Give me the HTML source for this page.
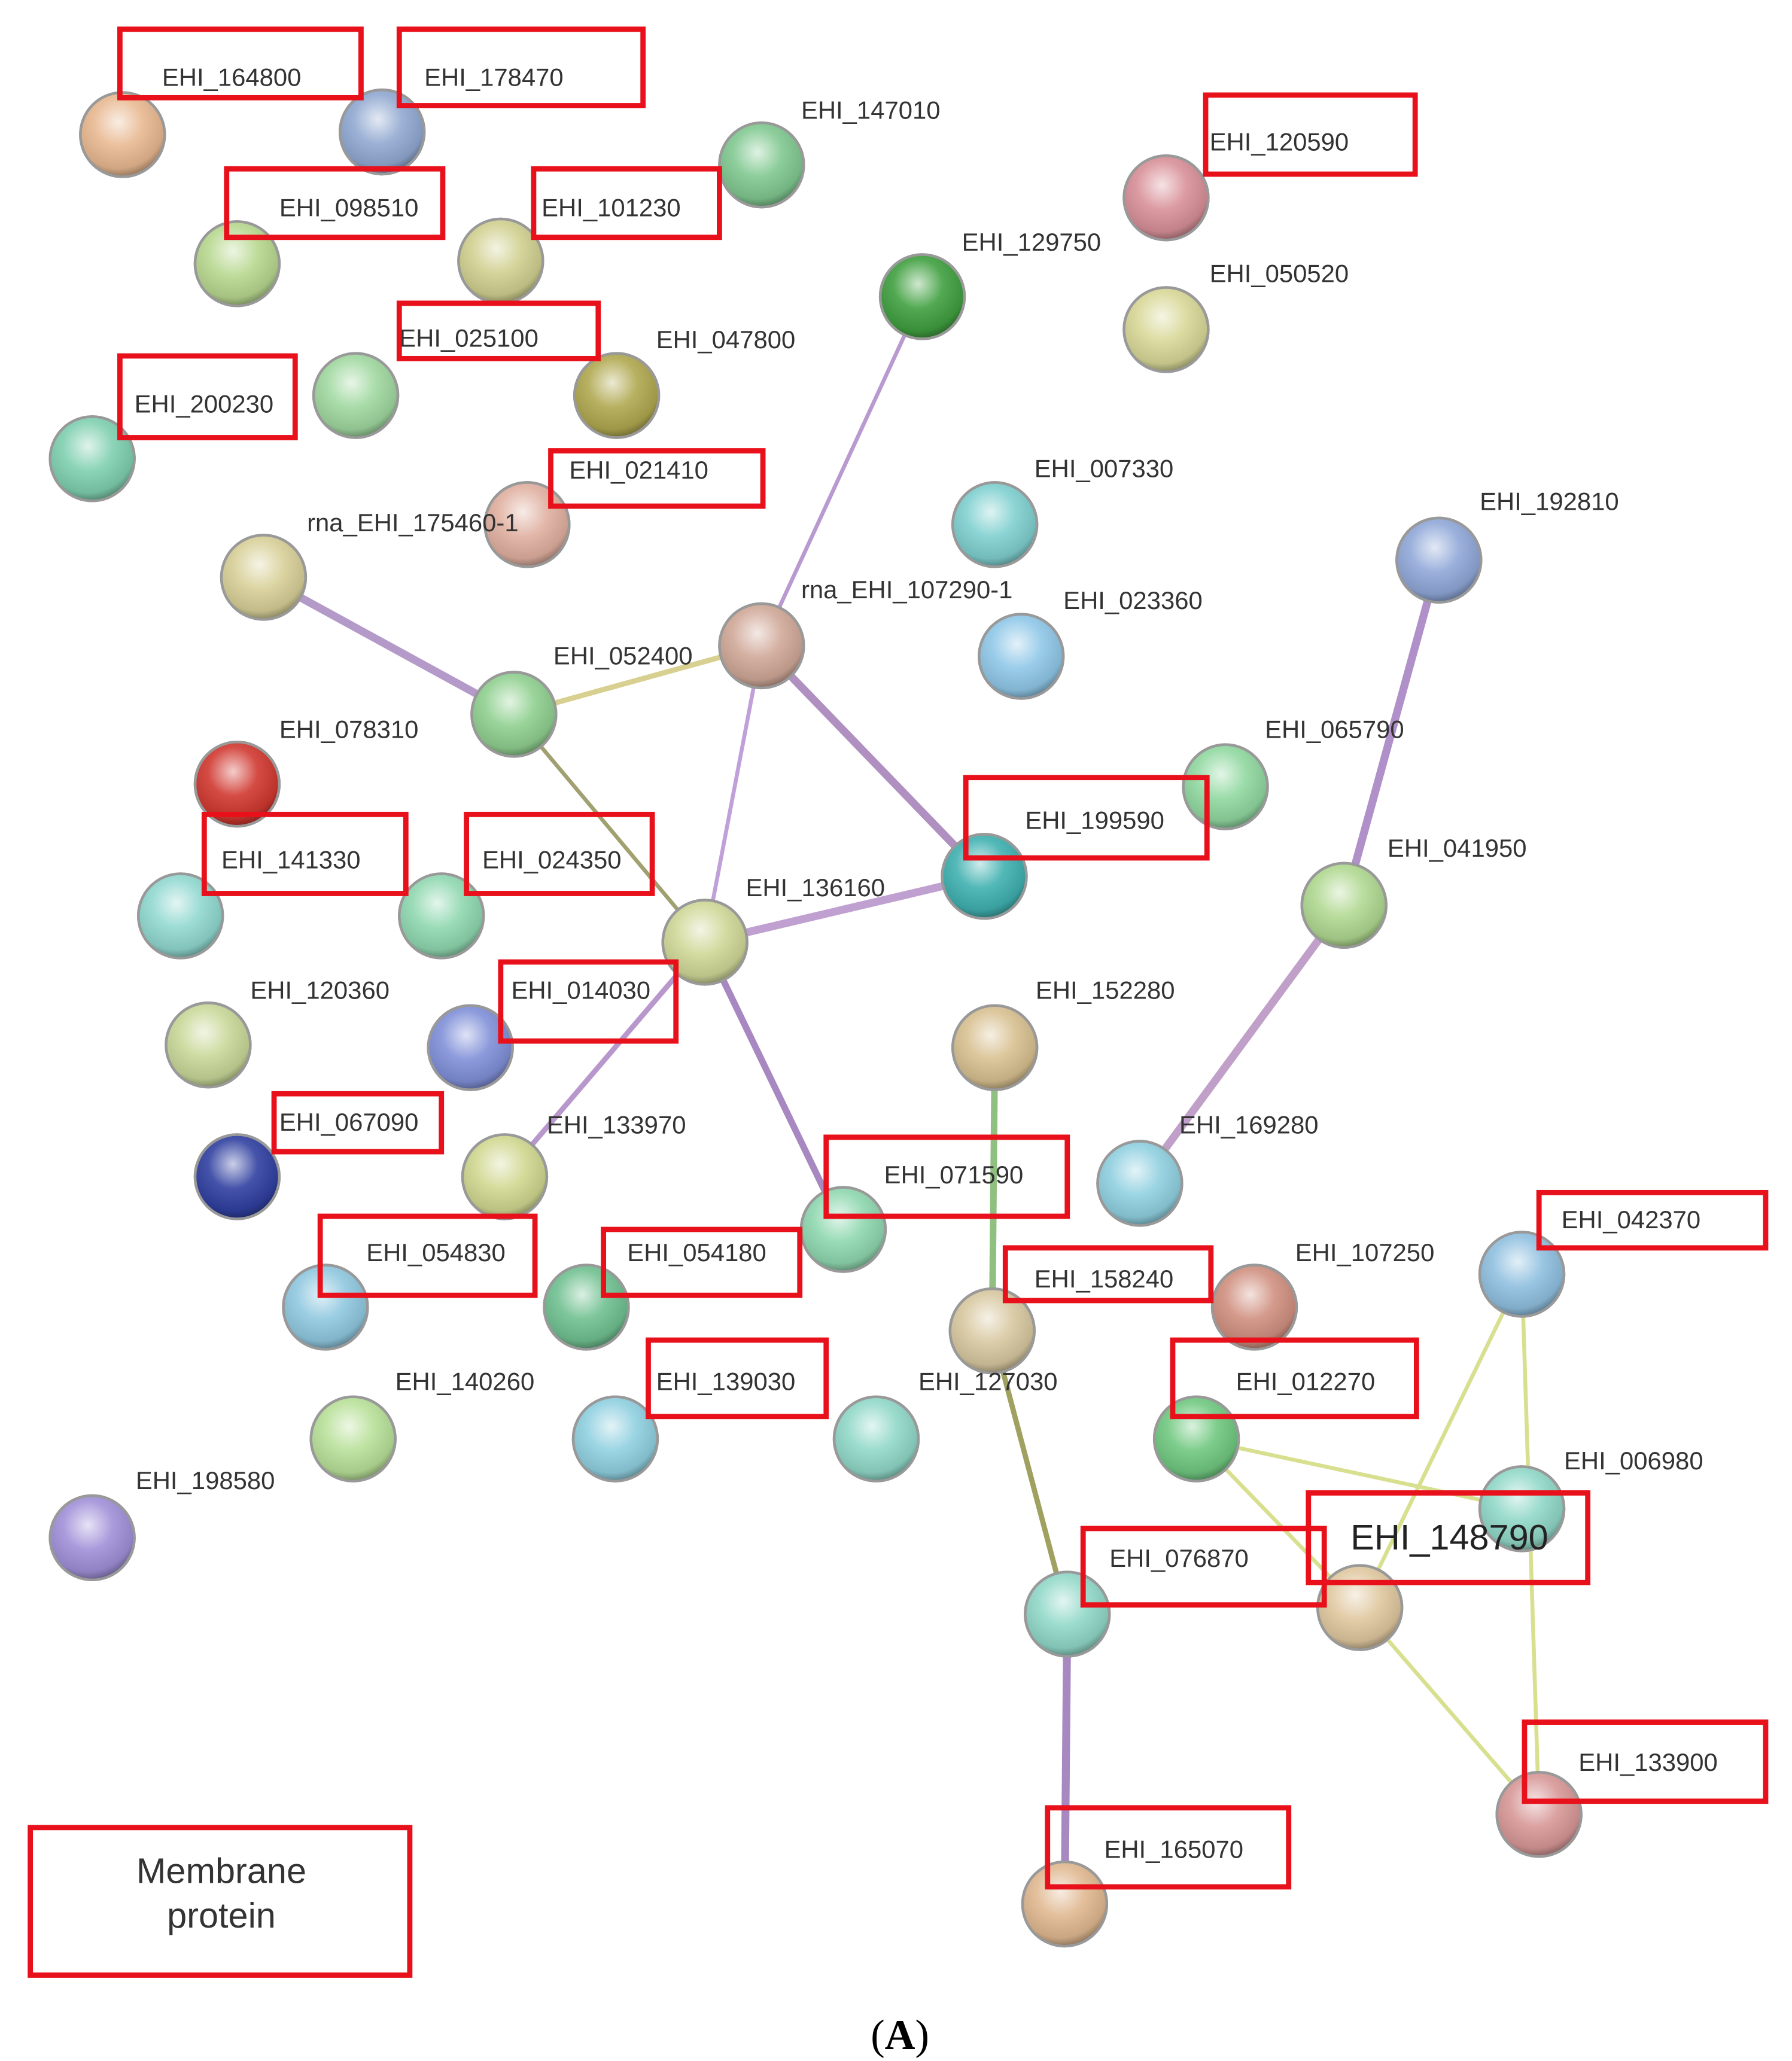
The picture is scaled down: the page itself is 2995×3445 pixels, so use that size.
<!DOCTYPE html>
<html><head><meta charset="utf-8"><style>
html,body{margin:0;padding:0;background:#fff;}
svg{display:block}
text{font-family:"Liberation Sans",sans-serif;font-size:19px;fill:#333;}
</style></head><body>
<svg width="2995" height="3445" viewBox="0 0 1360 1564" xmlns="http://www.w3.org/2000/svg">
<defs>
<radialGradient id="sh" cx="0.45" cy="0.35" r="0.65">
<stop offset="0" stop-color="#fff" stop-opacity="0.75"/>
<stop offset="0.45" stop-color="#fff" stop-opacity="0.1"/>
<stop offset="0.85" stop-color="#000" stop-opacity="0.1"/>
<stop offset="1" stop-color="#000" stop-opacity="0.35"/>
</radialGradient>
</defs>
<rect width="1360" height="1564" fill="#fff"/>
<g stroke-linecap="round" fill="none">
<line x1="200" y1="438" x2="390" y2="542" stroke="#b49ac8" stroke-width="6"/>
<line x1="390" y1="542" x2="578" y2="490" stroke="#d8d090" stroke-width="4"/>
<line x1="578" y1="490" x2="700" y2="225" stroke="#b89ad0" stroke-width="3"/>
<line x1="578" y1="490" x2="747" y2="665" stroke="#b090c0" stroke-width="6"/>
<line x1="578" y1="490" x2="535" y2="715" stroke="#c0a0d8" stroke-width="3"/>
<line x1="390" y1="542" x2="535" y2="715" stroke="#a0a070" stroke-width="3"/>
<line x1="535" y1="715" x2="747" y2="665" stroke="#c0a0d0" stroke-width="6"/>
<line x1="535" y1="715" x2="640" y2="933" stroke="#a888c0" stroke-width="5"/>
<line x1="535" y1="715" x2="383" y2="893" stroke="#b898cc" stroke-width="4"/>
<line x1="1092" y1="425" x2="1020" y2="687" stroke="#b090c8" stroke-width="6"/>
<line x1="1020" y1="687" x2="865" y2="898" stroke="#c0a0c8" stroke-width="6"/>
<line x1="755" y1="795" x2="753" y2="1010" stroke="#90c080" stroke-width="5"/>
<line x1="753" y1="1010" x2="810" y2="1225" stroke="#a0a060" stroke-width="4"/>
<line x1="810" y1="1225" x2="808" y2="1445" stroke="#a888c0" stroke-width="6"/>
<g stroke="#d8e090" stroke-width="3">
<line x1="908" y1="1092" x2="1155" y2="1145"/>
<line x1="908" y1="1092" x2="1032" y2="1220"/>
<line x1="1155" y1="967" x2="1032" y2="1220"/>
<line x1="1155" y1="967" x2="1168" y2="1377"/>
<line x1="1032" y1="1220" x2="1168" y2="1377"/>
</g>
</g>
<g stroke="#999" stroke-width="2">
<g><circle cx="93" cy="102" r="32" fill="#e8b890"/><circle cx="93" cy="102" r="32" fill="url(#sh)"/></g>
<g><circle cx="290" cy="100" r="32" fill="#90a8d0"/><circle cx="290" cy="100" r="32" fill="url(#sh)"/></g>
<g><circle cx="578" cy="125" r="32" fill="#80c890"/><circle cx="578" cy="125" r="32" fill="url(#sh)"/></g>
<g><circle cx="885" cy="150" r="32" fill="#d89098"/><circle cx="885" cy="150" r="32" fill="url(#sh)"/></g>
<g><circle cx="180" cy="200" r="32" fill="#b8d890"/><circle cx="180" cy="200" r="32" fill="url(#sh)"/></g>
<g><circle cx="380" cy="198" r="32" fill="#d0d090"/><circle cx="380" cy="198" r="32" fill="url(#sh)"/></g>
<g><circle cx="700" cy="225" r="32" fill="#40a040"/><circle cx="700" cy="225" r="32" fill="url(#sh)"/></g>
<g><circle cx="885" cy="250" r="32" fill="#d8d898"/><circle cx="885" cy="250" r="32" fill="url(#sh)"/></g>
<g><circle cx="270" cy="300" r="32" fill="#a0d8a0"/><circle cx="270" cy="300" r="32" fill="url(#sh)"/></g>
<g><circle cx="468" cy="300" r="32" fill="#b0a850"/><circle cx="468" cy="300" r="32" fill="url(#sh)"/></g>
<g><circle cx="70" cy="348" r="32" fill="#80d0b0"/><circle cx="70" cy="348" r="32" fill="url(#sh)"/></g>
<g><circle cx="400" cy="398" r="32" fill="#e0b0a0"/><circle cx="400" cy="398" r="32" fill="url(#sh)"/></g>
<g><circle cx="200" cy="438" r="32" fill="#d8d098"/><circle cx="200" cy="438" r="32" fill="url(#sh)"/></g>
<g><circle cx="755" cy="398" r="32" fill="#80d0d0"/><circle cx="755" cy="398" r="32" fill="url(#sh)"/></g>
<g><circle cx="1092" cy="425" r="32" fill="#90a8d8"/><circle cx="1092" cy="425" r="32" fill="url(#sh)"/></g>
<g><circle cx="578" cy="490" r="32" fill="#d0a898"/><circle cx="578" cy="490" r="32" fill="url(#sh)"/></g>
<g><circle cx="775" cy="498" r="32" fill="#90c8e8"/><circle cx="775" cy="498" r="32" fill="url(#sh)"/></g>
<g><circle cx="390" cy="542" r="32" fill="#90d090"/><circle cx="390" cy="542" r="32" fill="url(#sh)"/></g>
<g><circle cx="180" cy="595" r="32" fill="#d03830"/><circle cx="180" cy="595" r="32" fill="url(#sh)"/></g>
<g><circle cx="930" cy="597" r="32" fill="#90d8a0"/><circle cx="930" cy="597" r="32" fill="url(#sh)"/></g>
<g><circle cx="137" cy="695" r="32" fill="#90d8d0"/><circle cx="137" cy="695" r="32" fill="url(#sh)"/></g>
<g><circle cx="335" cy="695" r="32" fill="#90d8b0"/><circle cx="335" cy="695" r="32" fill="url(#sh)"/></g>
<g><circle cx="535" cy="715" r="32" fill="#d0d898"/><circle cx="535" cy="715" r="32" fill="url(#sh)"/></g>
<g><circle cx="747" cy="665" r="32" fill="#40b0b0"/><circle cx="747" cy="665" r="32" fill="url(#sh)"/></g>
<g><circle cx="1020" cy="687" r="32" fill="#b0d890"/><circle cx="1020" cy="687" r="32" fill="url(#sh)"/></g>
<g><circle cx="158" cy="793" r="32" fill="#c8d898"/><circle cx="158" cy="793" r="32" fill="url(#sh)"/></g>
<g><circle cx="357" cy="795" r="32" fill="#8090d8"/><circle cx="357" cy="795" r="32" fill="url(#sh)"/></g>
<g><circle cx="755" cy="795" r="32" fill="#d8c090"/><circle cx="755" cy="795" r="32" fill="url(#sh)"/></g>
<g><circle cx="180" cy="893" r="32" fill="#3040a0"/><circle cx="180" cy="893" r="32" fill="url(#sh)"/></g>
<g><circle cx="383" cy="893" r="32" fill="#d0d890"/><circle cx="383" cy="893" r="32" fill="url(#sh)"/></g>
<g><circle cx="865" cy="898" r="32" fill="#90d0e0"/><circle cx="865" cy="898" r="32" fill="url(#sh)"/></g>
<g><circle cx="640" cy="933" r="32" fill="#90d8b0"/><circle cx="640" cy="933" r="32" fill="url(#sh)"/></g>
<g><circle cx="1155" cy="967" r="32" fill="#90c0e0"/><circle cx="1155" cy="967" r="32" fill="url(#sh)"/></g>
<g><circle cx="247" cy="992" r="32" fill="#90c8e0"/><circle cx="247" cy="992" r="32" fill="url(#sh)"/></g>
<g><circle cx="445" cy="992" r="32" fill="#70c090"/><circle cx="445" cy="992" r="32" fill="url(#sh)"/></g>
<g><circle cx="952" cy="992" r="32" fill="#d09080"/><circle cx="952" cy="992" r="32" fill="url(#sh)"/></g>
<g><circle cx="753" cy="1010" r="32" fill="#d8c8a0"/><circle cx="753" cy="1010" r="32" fill="url(#sh)"/></g>
<g><circle cx="268" cy="1092" r="32" fill="#b8e098"/><circle cx="268" cy="1092" r="32" fill="url(#sh)"/></g>
<g><circle cx="467" cy="1092" r="32" fill="#90d0e0"/><circle cx="467" cy="1092" r="32" fill="url(#sh)"/></g>
<g><circle cx="665" cy="1092" r="32" fill="#90d8c8"/><circle cx="665" cy="1092" r="32" fill="url(#sh)"/></g>
<g><circle cx="908" cy="1092" r="32" fill="#70c880"/><circle cx="908" cy="1092" r="32" fill="url(#sh)"/></g>
<g><circle cx="1155" cy="1145" r="32" fill="#90d8c8"/><circle cx="1155" cy="1145" r="32" fill="url(#sh)"/></g>
<g><circle cx="70" cy="1167" r="32" fill="#a090d8"/><circle cx="70" cy="1167" r="32" fill="url(#sh)"/></g>
<g><circle cx="810" cy="1225" r="32" fill="#90d8c8"/><circle cx="810" cy="1225" r="32" fill="url(#sh)"/></g>
<g><circle cx="1032" cy="1220" r="32" fill="#e0c8a0"/><circle cx="1032" cy="1220" r="32" fill="url(#sh)"/></g>
<g><circle cx="1168" cy="1377" r="32" fill="#d89898"/><circle cx="1168" cy="1377" r="32" fill="url(#sh)"/></g>
<g><circle cx="808" cy="1445" r="32" fill="#e0b890"/><circle cx="808" cy="1445" r="32" fill="url(#sh)"/></g>
</g>
<g>
<text x="608" y="90">EHI_147010</text>
<text x="730" y="190">EHI_129750</text>
<text x="918" y="214">EHI_050520</text>
<text x="498" y="264">EHI_047800</text>
<text x="233" y="403">rna_EHI_175460-1</text>
<text x="785" y="362">EHI_007330</text>
<text x="1123" y="387">EHI_192810</text>
<text x="608" y="454">rna_EHI_107290-1</text>
<text x="807" y="462">EHI_023360</text>
<text x="420" y="504">EHI_052400</text>
<text x="212" y="560">EHI_078310</text>
<text x="960" y="560">EHI_065790</text>
<text x="1053" y="650">EHI_041950</text>
<text x="566" y="680">EHI_136160</text>
<text x="190" y="758">EHI_120360</text>
<text x="786" y="758">EHI_152280</text>
<text x="415" y="860">EHI_133970</text>
<text x="895" y="860">EHI_169280</text>
<text x="983" y="957">EHI_107250</text>
<text x="300" y="1055">EHI_140260</text>
<text x="697" y="1055">EHI_127030</text>
<text x="1187" y="1115">EHI_006980</text>
<text x="103" y="1130">EHI_198580</text>
<text x="123" y="65">EHI_164800</text>
<text x="322" y="65">EHI_178470</text>
<text x="212" y="164">EHI_098510</text>
<text x="411" y="164">EHI_101230</text>
<text x="918" y="114">EHI_120590</text>
<text x="303" y="263">EHI_025100</text>
<text x="102" y="313">EHI_200230</text>
<text x="432" y="363">EHI_021410</text>
<text x="778" y="629">EHI_199590</text>
<text x="168" y="659">EHI_141330</text>
<text x="366" y="659">EHI_024350</text>
<text x="388" y="758">EHI_014030</text>
<text x="212" y="858">EHI_067090</text>
<text x="671" y="898">EHI_071590</text>
<text x="278" y="957">EHI_054830</text>
<text x="476" y="957">EHI_054180</text>
<text x="785" y="977">EHI_158240</text>
<text x="1185" y="932">EHI_042370</text>
<text x="938" y="1055">EHI_012270</text>
<text x="498" y="1055">EHI_139030</text>
<text x="1025" y="1176" style="font-size:27px;fill:#222">EHI_148790</text>
<text x="842" y="1189">EHI_076870</text>
<text x="1198" y="1344">EHI_133900</text>
<text x="838" y="1410">EHI_165070</text>
<text x="168" y="1429" text-anchor="middle" style="font-size:27px;fill:#333">Membrane</text>
<text x="168" y="1463" text-anchor="middle" style="font-size:27px;fill:#333">protein</text>
<text x="683" y="1555" text-anchor="middle" style="font-family:'Liberation Serif',serif;font-size:32px;fill:#000">(<tspan font-weight="bold">A</tspan>)</text>
</g>
<g fill="none" stroke="#e8101a" stroke-width="4">
<rect x="91" y="22" width="183" height="52"/>
<rect x="303" y="22" width="185" height="58"/>
<rect x="172" y="128" width="164" height="52"/>
<rect x="405" y="128" width="141" height="52"/>
<rect x="915" y="72" width="159" height="60"/>
<rect x="303" y="230" width="151" height="42"/>
<rect x="91" y="270" width="133" height="62"/>
<rect x="418" y="342" width="161" height="42"/>
<rect x="733" y="590" width="183" height="61"/>
<rect x="155" y="618" width="153" height="60"/>
<rect x="354" y="618" width="141" height="60"/>
<rect x="380" y="730" width="133" height="60"/>
<rect x="208" y="830" width="127" height="44"/>
<rect x="627" y="863" width="183" height="60"/>
<rect x="243" y="923" width="163" height="60"/>
<rect x="458" y="933" width="149" height="50"/>
<rect x="763" y="947" width="156" height="40"/>
<rect x="1168" y="905" width="172" height="42"/>
<rect x="890" y="1017" width="185" height="58"/>
<rect x="492" y="1017" width="135" height="58"/>
<rect x="993" y="1133" width="212" height="68"/>
<rect x="822" y="1160" width="183" height="58"/>
<rect x="1157" y="1307" width="183" height="60"/>
<rect x="795" y="1372" width="183" height="60"/>
<rect x="23" y="1387" width="288" height="112"/>
</g>
</svg>
</body></html>
